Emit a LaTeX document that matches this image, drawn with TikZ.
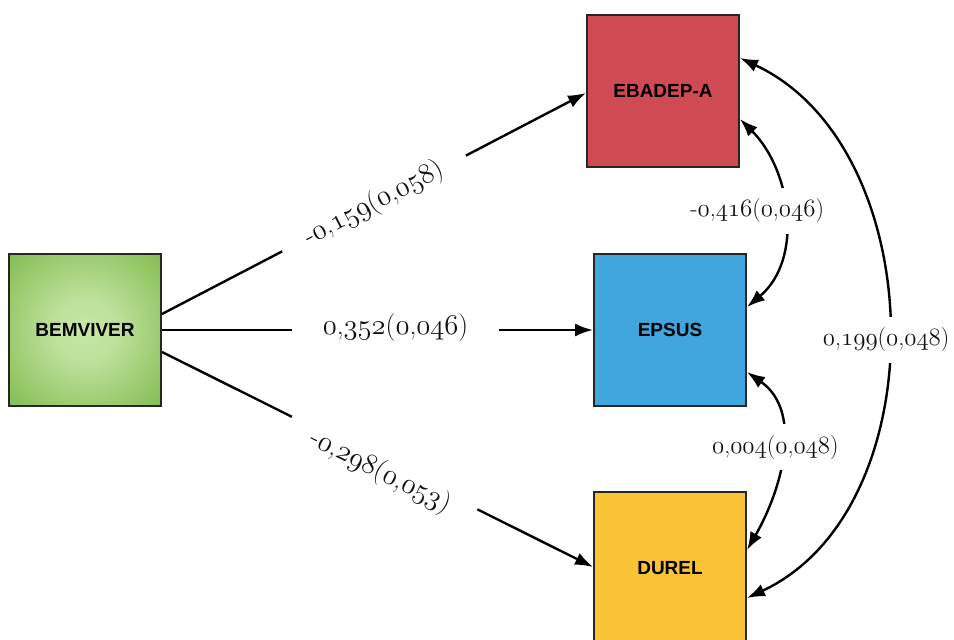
\documentclass[tikz,border=0pt]{standalone}
\usepackage{fontspec}
\usepackage{graphicx}
\usetikzlibrary{arrows.meta}
\newfontfamily\boxfont{Liberation Sans}
% old-style figures taken from the Latin Modern math italic font
\newcommand\osn[1]{{\usefont{OML}{lmm}{m}{it}#1}}
% path coefficients are set a little larger than the covariances
\newcommand\bigcoef[1]{\scalebox{1.15}{#1}}
\definecolor{ebadepred}{HTML}{CF4A52}
\definecolor{epsusblue}{HTML}{3FA7DD}
\definecolor{durelyellow}{HTML}{FBC336}
\definecolor{bemin}{HTML}{C6E6A6}
\definecolor{bemout}{HTML}{79B644}
\definecolor{edgegray}{HTML}{262626}
\definecolor{labelgray}{HTML}{111111}
\pgfdeclareradialshading{bemglow}{\pgfpoint{0bp}{0bp}}{%
  color(0bp)=(bemin); color(10bp)=(bemin!90!bemout);
  color(40bp)=(bemout); color(50bp)=(bemout)}
\begin{document}
\begin{tikzpicture}[x=1pt,y=1pt,
  var/.style={draw=edgegray, line width=2pt, minimum width=152pt,
    minimum height=152pt, inner sep=0pt,
    font=\boxfont\bfseries\fontsize{19}{21}\selectfont},
  conn/.style={line width=2.4pt, -{Latex[length=18pt,width=13pt]}},
  cov/.style={line width=2.4pt,
    {Latex[length=18pt,width=13pt]}-{Latex[length=18pt,width=13pt]}},
  coef/.style={fill=white, inner sep=0pt, minimum width=207pt,
    minimum height=48pt, text=labelgray, font=\fontsize{24}{27}\selectfont},
  corr/.style={fill=white, inner sep=0pt, minimum width=152pt,
    minimum height=46pt, text=labelgray, font=\fontsize{24}{27}\selectfont},
]
\useasboundingbox (0,0) rectangle (954,640);
\clip (0,0) rectangle (954,640);

% variables
\node[var, shading=bemglow] (bem) at (85,310) {BEMVIVER};
\node[var, fill=ebadepred] (eb) at (663,549) {EBADEP-A};
\node[var, fill=epsusblue] (ep) at (670,310) {EPSUS};
\node[var, fill=durelyellow] (du) at (670,72) {DUREL};

% regression paths
\draw[conn] ([yshift=16pt]bem.east) --
  node[coef, sloped] {\bigcoef{-\osn{0},\osn{159}(\osn{0},\osn{058})}}
  ([yshift=-2pt]eb.west);
\draw[conn] (bem.east) --
  node[coef, xshift=18pt, yshift=2pt] {\bigcoef{\osn{0},\osn{352}(\osn{0},\osn{046})}}
  (ep.west);
\draw[conn] ([yshift=-22pt]bem.east) --
  node[coef, sloped, xshift=8pt, yshift=-10pt] {\bigcoef{-\osn{0},\osn{298}(\osn{0},\osn{053})}}
  ([yshift=1pt]du.west);

% residual covariances
\draw[cov] ([yshift=-28pt]eb.east) to[out=-45,in=40]
  node[corr, xshift=-27pt, yshift=4pt] {-\osn{0},\osn{416}(\osn{0},\osn{046})}
  ([yshift=23pt]ep.east);
\draw[cov] ([yshift=-42pt]ep.east) to[out=-35,in=60]
  node[corr, xshift=-6pt, yshift=6pt] {\osn{0},\osn{004}(\osn{0},\osn{048})}
  ([yshift=18pt]du.east);
\draw[cov] ([yshift=33pt]eb.east) to[out=-25,in=25]
  node[corr, xshift=-1pt, yshift=-12pt] {\osn{0},\osn{199}(\osn{0},\osn{048})}
  ([yshift=-30pt]du.east);
\end{tikzpicture}
\end{document}
